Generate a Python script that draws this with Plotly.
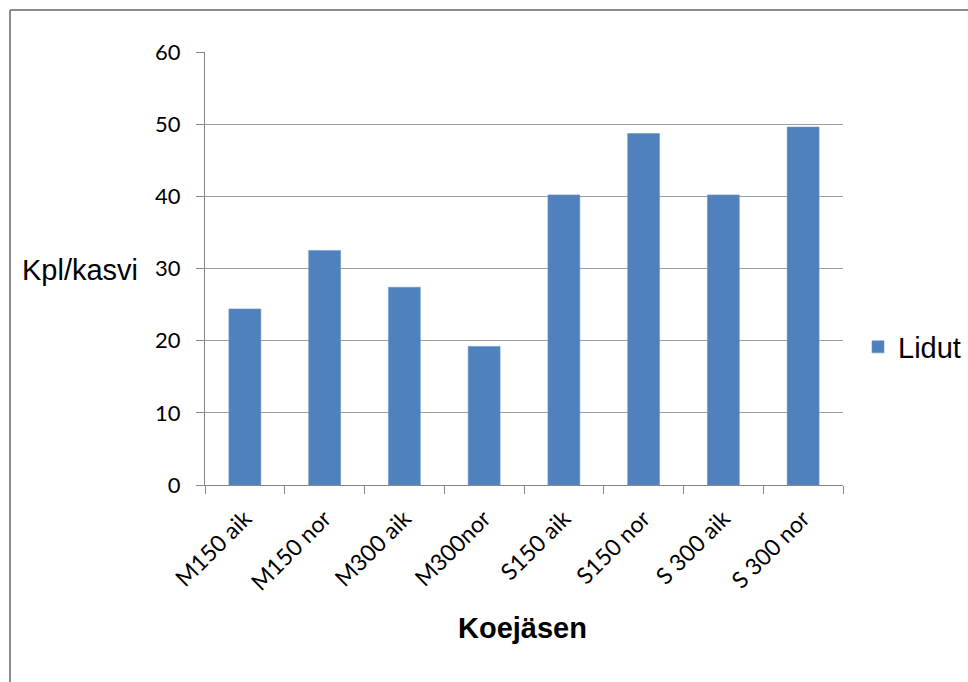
import plotly.graph_objects as go

# Data
categories = ["M150 aik", "M150 nor", "M300 aik", "M300nor",
              "S150 aik", "S150 nor", "S 300 aik", "S 300 nor"]
lidut = [24.4, 32.5, 27.4, 19.2, 40.2, 48.7, 40.2, 49.6]
y_ticks = [0, 10, 20, 30, 40, 50, 60]
series_name = "Lidut"
x_title = "Koejäsen"
y_title = "Kpl/kasvi"

# Canvas and plot-area geometry (pixels)
W, H = 968, 682
PL, PR, PT, PB = 205, 843, 52, 485

FONT = "Liberation Sans, Arial, sans-serif"
TICK_FONT = "Lato, Liberation Sans, sans-serif"
AXIS_GREY = "#868686"
GRID_GREY = "#a0a0a0"
BAR_BLUE = "#4F81BD"


def fx(px):
    return (px - PL) / (PR - PL)


def fy(py):
    return (PB - py) / (PB - PT)


fig = go.Figure(
    go.Bar(
        x=categories,
        y=lidut,
        name=series_name,
        marker=dict(color=BAR_BLUE, line=dict(color="#6a95c9", width=0.6)),
        showlegend=True,
    )
)

fig.update_layout(
    width=W,
    height=H,
    autosize=False,
    margin=dict(l=PL, r=W - PR, t=PT, b=H - PB, pad=0, autoexpand=False),
    paper_bgcolor="white",
    plot_bgcolor="white",
    bargap=0.6,
    font=dict(family=FONT, color="black"),
    showlegend=True,
    legend=dict(
        x=fx(858), y=fy(347), xanchor="left", yanchor="middle",
        font=dict(size=29, family=FONT, color="black"),
        bgcolor="rgba(0,0,0,0)", borderwidth=0,
        itemwidth=30, tracegroupgap=0,
    ),
    xaxis=dict(
        showline=True, linecolor=AXIS_GREY, linewidth=1,
        ticks="outside", tickson="boundaries", ticklen=8,
        tickcolor=AXIS_GREY, tickwidth=1, ticklabelstandoff=10,
        tickangle=-45, tickfont=dict(size=23, family=TICK_FONT, color="black"),
        showgrid=False, zeroline=False, automargin=False,
    ),
    yaxis=dict(
        range=[0, 60], tickvals=y_ticks,
        showline=True, linecolor=AXIS_GREY, linewidth=1,
        ticks="outside", ticklen=8, tickcolor=AXIS_GREY, tickwidth=1,
        showgrid=True, gridcolor=GRID_GREY, gridwidth=1,
        zeroline=False, ticklabelstandoff=11, automargin=False,
        tickfont=dict(size=22, family=TICK_FONT, color="black"),
    ),
    annotations=[
        dict(text=y_title, xref="paper", yref="paper",
             x=fx(20), y=fy(270), xanchor="left", yanchor="middle",
             showarrow=False, font=dict(size=29, family=FONT, color="black")),
        dict(text="<b>" + x_title + "</b>", xref="paper", yref="paper",
             x=fx(522), y=fy(628), xanchor="center", yanchor="middle",
             showarrow=False, font=dict(size=29, family=FONT, color="black")),
    ],
    shapes=[
        # chart frame: top and left edges
        dict(type="line", xref="paper", yref="paper",
             x0=fx(10), x1=fx(W + 5), y0=fy(10), y1=fy(10),
             line=dict(color="#8c8c8c", width=2)),
        dict(type="line", xref="paper", yref="paper",
             x0=fx(10), x1=fx(10), y0=fy(10), y1=fy(H + 5),
             line=dict(color="#8c8c8c", width=2)),
    ],
)

fig.write_html("out.html")
